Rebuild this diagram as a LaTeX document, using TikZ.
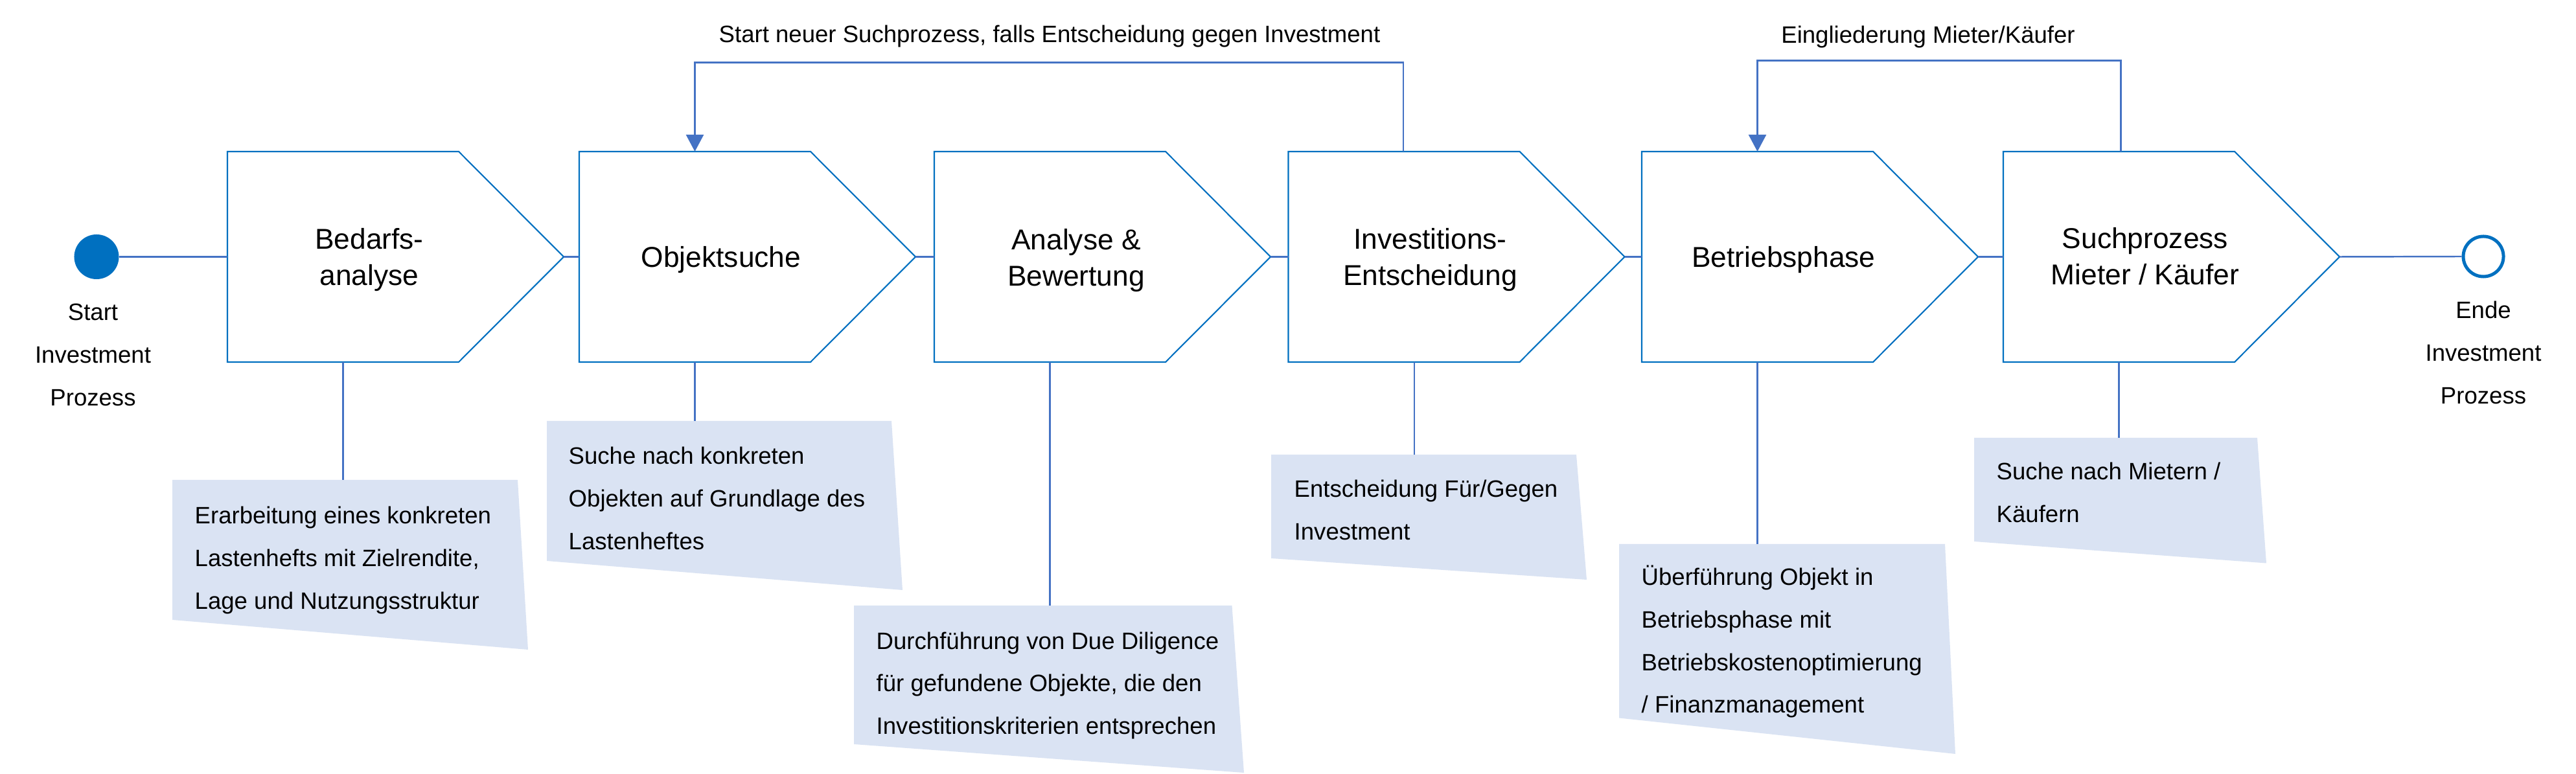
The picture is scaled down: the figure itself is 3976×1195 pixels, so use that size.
\documentclass[tikz,border=0pt]{standalone}
\usepackage{fontspec}
\setmainfont{Liberation Sans}
\usetikzlibrary{arrows.meta}
\definecolor{boxblue}{HTML}{0070C0}
\definecolor{connblue}{HTML}{4472C4}
\definecolor{notebgc}{HTML}{DAE3F3}
\newcommand\mlines[2]{\begin{tabular}[t]{@{}#1@{}}#2\end{tabular}}
% process box: #1 name, #2 left x, #3 text, #4 text baseline y
\newcommand\pbox[4]{%
  \draw[boxline] (#2,234) -- (#2+357,234) -- (#2+519,396.5) -- (#2+357,559) -- (#2,559) -- cycle;
  \coordinate (#1-w) at (#2,396.5);
  \coordinate (#1-e) at (#2+519,396.5);
  \coordinate (#1-s) at (#2+178.5,559);
  \coordinate (#1-n) at (#2+178.5,234);
  \node[maintext] (#1-t) at (#2+219,#4) {#3};
}
% note: #1 name, #2 L, #3 T, #4 R1, #5 R2, #6 B2, #7 B1, #8 text x, #9 baseline
\newcommand\pnote[9]{%
  \fill[notebg] (#2,#3) -- (#4,#3) -- (#5,#6) -- (#2,#7) -- cycle;
  \coordinate (#1-top) at (#2,#3);
  \node[smalltext, anchor=base west] (#1) at (#8,#9)
}
\begin{document}
\begin{tikzpicture}[x=0.01cm,y=-0.01cm,
  boxline/.style={draw=boxblue, line width=0.6pt, fill=white, line join=miter},
  conn/.style={draw=connblue, line width=0.7pt},
  tipend/.style={-{Triangle[length=0.26cm,width=0.27cm]}},
  maintext/.style={font=\fontsize{12.6}{15.65}\selectfont, inner sep=0pt, anchor=base},
  smalltext/.style={font=\fontsize{10.4}{18.7}\selectfont, inner sep=0pt},
  notebg/.style={fill=notebgc}]
\useasboundingbox (0,0) rectangle (3976,1195);

% notes
\pnote{n1}{266}{741}{799}{815}{1003}{957}{300}{808.7}{\mlines{l}{Erarbeitung eines konkreten\\Lastenhefts mit Zielrendite,\\Lage und Nutzungsstruktur}};
\pnote{n2}{844}{650}{1376}{1393}{911}{866}{877}{717}{\mlines{l}{Suche nach konkreten\\Objekten auf Grundlage des\\Lastenheftes}};
\pnote{n3}{1318}{935}{1901.5}{1920}{1193}{1149}{1352}{1002}{\mlines{l}{Durchführung von Due Diligence\\für gefundene Objekte, die den\\Investitionskriterien entsprechen}};
\pnote{n4}{1962}{702}{2433}{2449}{895}{862}{1997}{768}{\mlines{l}{Entscheidung Für/Gegen\\Investment}};
\pnote{n5}{2499}{840}{3002}{3018}{1164}{1108.5}{2533}{903.6}{\mlines{l}{Überführung Objekt in\\Betriebsphase mit\\Betriebskostenoptimierung\\/ Finanzmanagement}};
\pnote{n6}{3047}{676}{3484}{3498}{869.5}{836}{3081}{741}{\mlines{l}{Suche nach Mietern /\\Käufern}};

% process boxes
\pbox{bed}{351}{\mlines{c}{Bedarfs-\\analyse}}{385}
\pbox{obj}{894}{Objektsuche}{413}
\pbox{ana}{1442}{\mlines{c}{Analyse \&\\Bewertung}}{386}
\pbox{inv}{1988.5}{\mlines{c}{Investitions-\\Entscheidung}}{385}
\pbox{bet}{2534}{Betriebsphase}{413}
\pbox{such}{3092}{\mlines{c}{Suchprozess\\Mieter / Käufer}}{384}

% start / end events
\node[circle, fill=boxblue, minimum size=0.69cm, inner sep=0pt] (start) at (149,396.5) {};
\node[circle, draw=boxblue, line width=1.42pt, fill=white, minimum size=0.62cm, inner sep=0pt] (ende) at (3833,396) {};
\node[smalltext, anchor=base] (startlbl) at (143.5,495) {\mlines{c}{Start\\Investment\\Prozess}};
\node[smalltext, anchor=base] (endelbl) at (3833,492) {\mlines{c}{Ende\\Investment\\Prozess}};

% main flow
\draw[conn] (start.east) -- (bed-w);
\draw[conn] (bed-e) -- (obj-w);
\draw[conn] (obj-e) -- (ana-w);
\draw[conn] (ana-e) -- (inv-w);
\draw[conn] (inv-e) -- (bet-w);
\draw[conn] (bet-e) -- (such-w);
\draw[conn] (such-e) -- (ende.west);

% box to note connectors
\coordinate (invbot) at (2183,559);
\draw[conn] (bed-s) -- (bed-s |- n1-top);
\draw[conn] (obj-s) -- (obj-s |- n2-top);
\draw[conn] (ana-s) -- (ana-s |- n3-top);
\draw[conn] (invbot) -- (invbot |- n4-top);
\draw[conn] (bet-s) -- (bet-s |- n5-top);
\draw[conn] (such-s) -- (such-s |- n6-top);

% feedback loops
\coordinate (invtop) at (2166,234);
\coordinate (suchtop) at (3273.6,234);
\draw[conn, tipend] (invtop) -- ++(0,-137.5) -| (obj-n);
\draw[conn, tipend] (suchtop) -- ++(0,-140.3) -| (bet-n);
\node[smalltext, anchor=base] (loop1) at (1620,65.7) {Start neuer Suchprozess, falls Entscheidung gegen Investment};
\node[smalltext, anchor=base] (loop2) at (2976,66.7) {Eingliederung Mieter/Käufer};
\end{tikzpicture}
\end{document}
